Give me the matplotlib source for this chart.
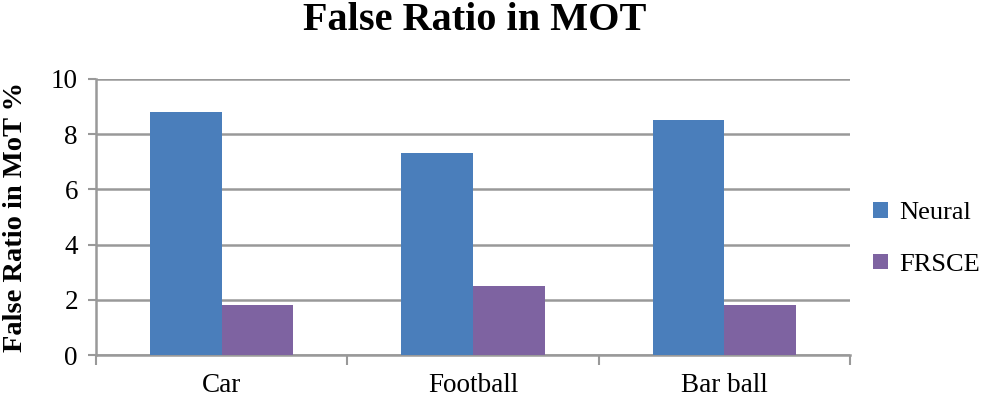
import matplotlib.pyplot as plt
import numpy as np

# data
categories = ["Car", "Football", "Bar ball"]
neural = [8.8, 7.3, 8.5]
frsce = [1.8, 2.5, 1.8]
yticks = [0, 2, 4, 6, 8, 10]

plt.rcParams['font.family'] = ['Liberation Serif', 'DejaVu Serif']

fig = plt.figure(figsize=(9.83, 3.98), dpi=100)
ax = fig.add_axes([0.0977, 0.108, 0.767, 0.694])

x = np.arange(len(categories))
w = 0.285
ax.bar(x - w / 2, neural, w, color='#4a7ebb', label='Neural', zorder=3)
ax.bar(x + w / 2, frsce, w, color='#7e63a1', label='FRSCE', zorder=3)

ax.set_xlim(-0.5, len(categories) - 0.5)
ax.set_ylim(0, 10)
ax.set_yticks(yticks)
ax.set_xticks(x)
ax.set_xticklabels(categories)
# tick marks at category boundaries
ax.set_xticks(np.arange(-0.5, len(categories) + 0.5, 1), minor=True)
ax.tick_params(axis='x', which='major', length=0, labelsize=19.5, pad=13)
ax.tick_params(axis='x', which='minor', length=7, width=1.5, color='#999999')
ax.tick_params(axis='y', length=6, width=1.5, color='#999999', labelsize=19.5, pad=7)

ax.grid(axis='y', color='#999999', linewidth=1.8, zorder=0)
for s in ['top', 'right']:
    ax.spines[s].set_visible(False)
for s in ['left', 'bottom']:
    ax.spines[s].set_color('#999999')
    ax.spines[s].set_linewidth(1.8)

ax.set_ylabel("False Ratio in MoT %", fontsize=20.5, fontweight='bold')
ax.yaxis.set_label_coords(-0.09, 0.5)
fig.suptitle("False Ratio in MOT", fontsize=29, fontweight='bold', x=0.483, y=0.995)

ax.legend(loc='center left', bbox_to_anchor=(0.999, 0.42), frameon=False,
          fontsize=19, handlelength=0.55, handleheight=0.55, labelspacing=1.1,
          handletextpad=0.45)

fig.savefig('out.png', dpi=100)
